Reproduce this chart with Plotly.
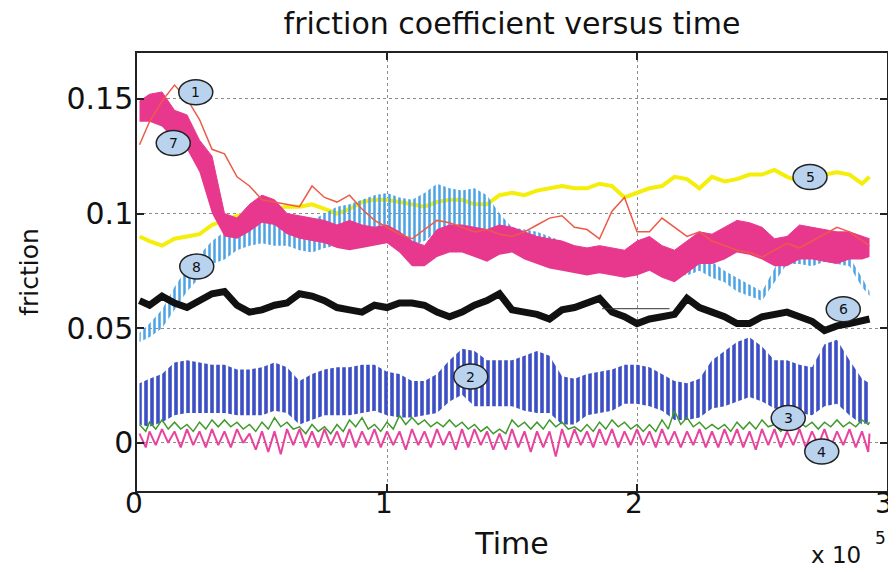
import plotly.graph_objects as go

# ---------------- data (time in units of 1e5) ----------------
time_e5 = [0.01, 0.05, 0.10, 0.15, 0.20, 0.25, 0.30, 0.35, 0.40, 0.45,
           0.50, 0.55, 0.60, 0.65, 0.70, 0.75, 0.80, 0.85, 0.90, 0.95,
           1.00, 1.05, 1.10, 1.15, 1.20, 1.25, 1.30, 1.35, 1.40, 1.45,
           1.50, 1.55, 1.60, 1.65, 1.70, 1.75, 1.80, 1.85, 1.90, 1.95,
           2.00, 2.05, 2.10, 2.15, 2.20, 2.25, 2.30, 2.35, 2.40, 2.45,
           2.50, 2.55, 2.60, 2.65, 2.70, 2.75, 2.80, 2.85, 2.90, 2.93]

s1_red = [0.130, 0.140, 0.149, 0.156, 0.150, 0.141, 0.128, 0.126, 0.116, 0.112,
          0.106, 0.105, 0.104, 0.103, 0.112, 0.107, 0.105, 0.108, 0.102, 0.097,
          0.094, 0.091, 0.089, 0.093, 0.097, 0.096, 0.094, 0.092, 0.093, 0.091,
          0.090, 0.092, 0.095, 0.098, 0.099, 0.094, 0.093, 0.089, 0.101, 0.107,
          0.092, 0.092, 0.098, 0.094, 0.090, 0.092, 0.088, 0.086, 0.084, 0.083,
          0.081, 0.084, 0.087, 0.085, 0.088, 0.091, 0.094, 0.092, 0.088, 0.086]

s5_yellow = [0.090, 0.088, 0.086, 0.089, 0.090, 0.091, 0.095, 0.097, 0.099, 0.100,
             0.101, 0.102, 0.103, 0.103, 0.104, 0.102, 0.100, 0.102, 0.105, 0.106,
             0.106, 0.105, 0.104, 0.103, 0.105, 0.106, 0.106, 0.104, 0.104, 0.108,
             0.109, 0.108, 0.110, 0.111, 0.112, 0.111, 0.111, 0.113, 0.112, 0.107,
             0.109, 0.111, 0.112, 0.116, 0.115, 0.111, 0.116, 0.114, 0.115, 0.117,
             0.117, 0.119, 0.116, 0.114, 0.116, 0.117, 0.118, 0.117, 0.113, 0.116]

s7_pink_hi = [0.149, 0.152, 0.153, 0.145, 0.143, 0.132, 0.125, 0.100, 0.098, 0.104,
              0.108, 0.106, 0.100, 0.099, 0.098, 0.097, 0.095, 0.097, 0.095, 0.094,
              0.095, 0.092, 0.088, 0.086, 0.093, 0.095, 0.095, 0.094, 0.093, 0.095,
              0.094, 0.092, 0.090, 0.089, 0.088, 0.086, 0.085, 0.086, 0.085, 0.084,
              0.088, 0.090, 0.086, 0.084, 0.088, 0.092, 0.091, 0.094, 0.097, 0.096,
              0.094, 0.089, 0.090, 0.095, 0.094, 0.093, 0.092, 0.092, 0.090, 0.089]
s7_pink_lo = [0.140, 0.140, 0.138, 0.132, 0.128, 0.118, 0.100, 0.090, 0.089, 0.092,
              0.096, 0.095, 0.091, 0.089, 0.088, 0.087, 0.085, 0.084, 0.085, 0.086,
              0.087, 0.083, 0.077, 0.077, 0.081, 0.083, 0.083, 0.081, 0.079, 0.082,
              0.083, 0.080, 0.078, 0.076, 0.075, 0.074, 0.073, 0.074, 0.073, 0.072,
              0.073, 0.075, 0.072, 0.070, 0.074, 0.078, 0.078, 0.080, 0.083, 0.082,
              0.080, 0.077, 0.077, 0.080, 0.080, 0.079, 0.078, 0.080, 0.080, 0.081]

s8_lightblue_hi = [0.048, 0.052, 0.058, 0.068, 0.076, 0.082, 0.088, 0.092, 0.094, 0.096,
                   0.098, 0.097, 0.099, 0.098, 0.097, 0.100, 0.103, 0.104, 0.106, 0.108,
                   0.109, 0.107, 0.106, 0.109, 0.113, 0.111, 0.110, 0.111, 0.108, 0.100,
                   0.094, 0.093, 0.092, 0.090, 0.088, 0.086, 0.085, 0.083, 0.082, 0.081,
                   0.082, 0.083, 0.082, 0.080, 0.079, 0.081, 0.079, 0.075, 0.072, 0.069,
                   0.066, 0.076, 0.088, 0.084, 0.081, 0.083, 0.082, 0.081, 0.072, 0.066]
s8_lightblue_lo = [0.044, 0.046, 0.050, 0.058, 0.066, 0.072, 0.078, 0.080, 0.084, 0.086,
                   0.087, 0.086, 0.086, 0.084, 0.083, 0.085, 0.086, 0.087, 0.088, 0.090,
                   0.091, 0.089, 0.086, 0.088, 0.092, 0.091, 0.090, 0.090, 0.089, 0.088,
                   0.084, 0.083, 0.082, 0.080, 0.078, 0.077, 0.076, 0.074, 0.074, 0.075,
                   0.075, 0.076, 0.076, 0.074, 0.073, 0.075, 0.072, 0.070, 0.066, 0.064,
                   0.062, 0.070, 0.078, 0.078, 0.077, 0.079, 0.078, 0.077, 0.068, 0.064]

s6_black = [0.062, 0.060, 0.064, 0.061, 0.059, 0.062, 0.065, 0.066, 0.060, 0.057,
            0.058, 0.060, 0.061, 0.065, 0.064, 0.062, 0.059, 0.058, 0.057, 0.060,
            0.059, 0.061, 0.061, 0.060, 0.057, 0.055, 0.057, 0.060, 0.062, 0.065,
            0.058, 0.057, 0.056, 0.054, 0.058, 0.059, 0.061, 0.063, 0.057, 0.055,
            0.052, 0.054, 0.055, 0.056, 0.063, 0.059, 0.057, 0.055, 0.052, 0.052,
            0.055, 0.056, 0.057, 0.055, 0.053, 0.049, 0.051, 0.052, 0.053, 0.054]
s6_segment_time_e5 = [1.86, 2.13]
s6_segment_value = [0.0585, 0.0585]

s2_blue_hi = [0.026, 0.028, 0.030, 0.035, 0.036, 0.035, 0.034, 0.034, 0.032, 0.032,
              0.033, 0.035, 0.033, 0.027, 0.030, 0.032, 0.033, 0.033, 0.034, 0.034,
              0.031, 0.030, 0.027, 0.027, 0.030, 0.036, 0.041, 0.040, 0.036, 0.036,
              0.036, 0.038, 0.040, 0.038, 0.029, 0.028, 0.030, 0.031, 0.032, 0.034,
              0.034, 0.033, 0.030, 0.027, 0.026, 0.028, 0.036, 0.040, 0.044, 0.046,
              0.042, 0.036, 0.036, 0.034, 0.033, 0.043, 0.045, 0.036, 0.028, 0.026]
s2_blue_lo = [0.008, 0.007, 0.009, 0.012, 0.013, 0.013, 0.013, 0.013, 0.012, 0.012,
              0.012, 0.014, 0.013, 0.008, 0.010, 0.012, 0.012, 0.012, 0.013, 0.014,
              0.012, 0.011, 0.011, 0.012, 0.013, 0.018, 0.021, 0.016, 0.016, 0.016,
              0.016, 0.014, 0.013, 0.013, 0.008, 0.008, 0.012, 0.013, 0.014, 0.017,
              0.017, 0.016, 0.014, 0.010, 0.010, 0.011, 0.015, 0.016, 0.018, 0.020,
              0.018, 0.015, 0.014, 0.013, 0.012, 0.016, 0.017, 0.012, 0.008, 0.009]

s3_green_hi = [0.008, 0.009, 0.010, 0.009, 0.008, 0.009, 0.010, 0.010, 0.009, 0.008,
               0.009, 0.011, 0.009, 0.007, 0.008, 0.007, 0.008, 0.010, 0.011, 0.008,
               0.009, 0.012, 0.011, 0.010, 0.009, 0.010, 0.009, 0.008, 0.007, 0.006,
               0.010, 0.009, 0.009, 0.010, 0.009, 0.007, 0.008, 0.009, 0.010, 0.009,
               0.008, 0.008, 0.010, 0.014, 0.011, 0.009, 0.008, 0.008, 0.009, 0.009,
               0.010, 0.008, 0.008, 0.009, 0.009, 0.009, 0.010, 0.009, 0.010, 0.009]
s3_green_lo = [0.005, 0.006, 0.006, 0.006, 0.005, 0.006, 0.007, 0.007, 0.006, 0.005,
               0.006, 0.007, 0.006, 0.004, 0.005, 0.004, 0.005, 0.007, 0.006, 0.005,
               0.006, 0.008, 0.008, 0.007, 0.007, 0.007, 0.006, 0.005, 0.004, 0.004,
               0.007, 0.006, 0.006, 0.007, 0.006, 0.005, 0.005, 0.006, 0.007, 0.006,
               0.005, 0.005, 0.006, 0.008, 0.007, 0.006, 0.006, 0.005, 0.006, 0.006,
               0.007, 0.005, 0.006, 0.007, 0.006, 0.007, 0.007, 0.007, 0.008, 0.007]

s4_magenta_hi = [0.004, 0.005, 0.006, 0.005, 0.006, 0.005, 0.006, 0.005, 0.006, 0.004,
                 0.005, 0.005, 0.006, 0.006, 0.005, 0.006, 0.005, 0.006, 0.005, 0.006,
                 0.005, 0.005, 0.006, 0.005, 0.006, 0.005, 0.006, 0.006, 0.005, 0.004,
                 0.006, 0.005, 0.005, 0.005, 0.006, 0.006, 0.005, 0.006, 0.006, 0.005,
                 0.006, 0.005, 0.006, 0.005, 0.005, 0.006, 0.005, 0.006, 0.006, 0.005,
                 0.006, 0.006, 0.005, 0.006, 0.005, 0.006, 0.005, 0.006, 0.005, 0.004]
s4_magenta_lo = [-0.002, -0.001, 0.000, -0.002, -0.001, -0.002, -0.001, -0.002, 0.000, -0.003,
                 -0.004, -0.005, -0.001, -0.002, -0.002, -0.001, -0.002, -0.002, -0.001, -0.002,
                 -0.001, -0.003, -0.001, -0.002, -0.001, -0.003, -0.002, -0.001, -0.003, -0.003,
                 -0.002, -0.004, -0.002, -0.006, -0.002, -0.001, -0.002, -0.001, -0.002, -0.001,
                 -0.001, -0.002, -0.001, -0.002, -0.001, -0.002, -0.002, -0.001, -0.002, -0.003,
                 -0.001, -0.002, -0.001, -0.002, -0.001, -0.002, -0.001, -0.002, -0.004, -0.002]

# curve labels: (text, time in 1e5, friction value)
label_text = ["1", "7", "8", "5", "6", "2", "3", "4"]
label_time_e5 = [0.235, 0.145, 0.239, 2.692, 2.825, 1.335, 2.605, 2.739]
label_value = [0.1529, 0.1307, 0.0769, 0.1159, 0.0583, 0.0289, 0.0108, -0.0038]

x_tick_values_e5 = [0, 1, 2, 3]
x_tick_labels = ["0", "1", "2", "3"]
y_tick_values = [0, 0.05, 0.1, 0.15]
y_tick_labels = ["0", "0.05", "0.1", "0.15"]

SCALE = 1e5
HALF_STEP_E5 = 0.025  # troughs were read half a sampling step after peaks

FONT = "DejaVu Sans"
C_RED = "#ee5a48"
C_YELLOW = "#f4ee0a"
C_PINK = "#e8388e"
C_LBLUE = "#4ba2e6"
C_BLACK = "#111111"
C_BLUE = "#3d4fc4"
C_GREEN = "#3f9a2c"
C_MAGENTA = "#e8449e"

# The page body keeps the browser's default 8 px margin, so the figure is
# sized 888 x 565 to fill the 896 x 573 window.
FIG_W, FIG_H = 888, 565

# ---------------- figure ----------------
X = [t * SCALE for t in time_e5]


def zigzag(hi, lo):
    xs, ys = [], []
    for t, h, l in zip(time_e5, hi, lo):
        xs += [t * SCALE, (t + HALF_STEP_E5) * SCALE]
        ys += [h, l]
    return xs[:-1], ys[:-1]


fig = go.Figure()


def band(hi, lo, color, pattern=None):
    fig.add_trace(go.Scatter(x=X, y=lo, mode="lines", line=dict(width=0, color=color),
                             showlegend=False, hoverinfo="skip"))
    if pattern is None:
        fig.add_trace(go.Scatter(x=X, y=hi, mode="lines", line=dict(width=1, color=color),
                                 fill="tonexty", fillcolor=color, showlegend=False, hoverinfo="skip"))
    else:
        fig.add_trace(go.Scatter(x=X, y=hi, mode="lines", line=dict(width=0, color=color),
                                 fill="tonexty", fillcolor="rgba(0,0,0,0)",
                                 fillpattern=dict(shape="|", fgcolor=color, bgcolor="rgba(0,0,0,0)",
                                                  size=pattern[0], solidity=pattern[1], fillmode="replace"),
                                 showlegend=False, hoverinfo="skip"))


# yellow (5)
fig.add_trace(go.Scatter(x=X, y=s5_yellow, mode="lines", line=dict(color=C_YELLOW, width=4),
                         showlegend=False))
# light blue (8)
band(s8_lightblue_hi, s8_lightblue_lo, C_LBLUE, pattern=(5, 0.5))
# pink (7)
band(s7_pink_hi, s7_pink_lo, C_PINK)
# red (1)
fig.add_trace(go.Scatter(x=X, y=s1_red, mode="lines", line=dict(color=C_RED, width=1.5),
                         showlegend=False))
# black (6)
fig.add_trace(go.Scatter(x=X, y=s6_black, mode="lines", line=dict(color=C_BLACK, width=7),
                         showlegend=False))
fig.add_trace(go.Scatter(x=[t * SCALE for t in s6_segment_time_e5], y=s6_segment_value,
                         mode="lines", line=dict(color="#333333", width=1), showlegend=False))
# blue (2)
band(s2_blue_hi, s2_blue_lo, C_BLUE, pattern=(6, 0.6))
# green (3)
gx, gy = zigzag(s3_green_hi, s3_green_lo)
fig.add_trace(go.Scatter(x=gx, y=gy, mode="lines", line=dict(color=C_GREEN, width=1.5),
                         showlegend=False))
# magenta (4)
mx, my = zigzag(s4_magenta_hi, s4_magenta_lo)
fig.add_trace(go.Scatter(x=mx, y=my, mode="lines", line=dict(color=C_MAGENTA, width=2),
                         showlegend=False))

# curve labels
for txt, t, v in zip(label_text, label_time_e5, label_value):
    fig.add_shape(type="circle", xref="x", yref="y", xsizemode="pixel", ysizemode="pixel",
                  xanchor=t * SCALE, yanchor=v, x0=-17, x1=17, y0=-12.5, y1=12.5,
                  fillcolor="#b9d3ef", line=dict(color="#222222", width=1.5))
    fig.add_annotation(x=t * SCALE, y=v, text=txt, showarrow=False,
                       font=dict(family=FONT, size=14, color="#111111"))

# exponent note under the x axis (plot area is 438 px tall)
fig.add_annotation(xref="paper", yref="paper", x=0.932, y=-64 / 438,
                   xanchor="center", yanchor="middle",
                   text="x 10", showarrow=False, font=dict(family=FONT, size=23, color="#111111"))
fig.add_annotation(xref="paper", yref="paper", x=0.991, y=-47 / 438,
                   xanchor="center", yanchor="middle",
                   text="5", showarrow=False, font=dict(family=FONT, size=17, color="#111111"))

axis_common = dict(showline=True, linecolor="#222222", linewidth=1.5, mirror="ticks",
                   ticks="inside", ticklen=7, tickwidth=1.5, tickcolor="#222222",
                   showgrid=True, gridcolor="#8c8c8c", gridwidth=1, griddash="dot",
                   zeroline=False, automargin=False, ticklabeloverflow="allow")

fig.update_layout(
    width=FIG_W, height=FIG_H,
    margin=dict(l=129, r=9, t=45, b=82, autoexpand=False),
    paper_bgcolor="white", plot_bgcolor="white",
    title=dict(text="friction coefficient versus time", x=0.5, xref="paper", xanchor="center",
               y=1 - 15 / FIG_H, yref="container", yanchor="middle",
               font=dict(family=FONT, size=30, color="#111111")),
    xaxis=dict(range=[0, 3 * SCALE], tickvals=[v * SCALE for v in x_tick_values_e5],
               ticktext=x_tick_labels, ticklabelstandoff=-13, ticklabelshift=-3,
               tickfont=dict(family=FONT, size=28, color="#111111"),
               title=dict(text="Time", font=dict(family=FONT, size=30, color="#111111"), standoff=14),
               **axis_common),
    yaxis=dict(range=[-0.021, 0.17], tickvals=y_tick_values, ticktext=y_tick_labels,
               ticklabelstandoff=-4,
               tickfont=dict(family=FONT, size=30, color="#111111"),
               title=dict(text="friction", font=dict(family=FONT, size=25, color="#111111"), standoff=21),
               **axis_common),
)

fig.write_html("out.html")
